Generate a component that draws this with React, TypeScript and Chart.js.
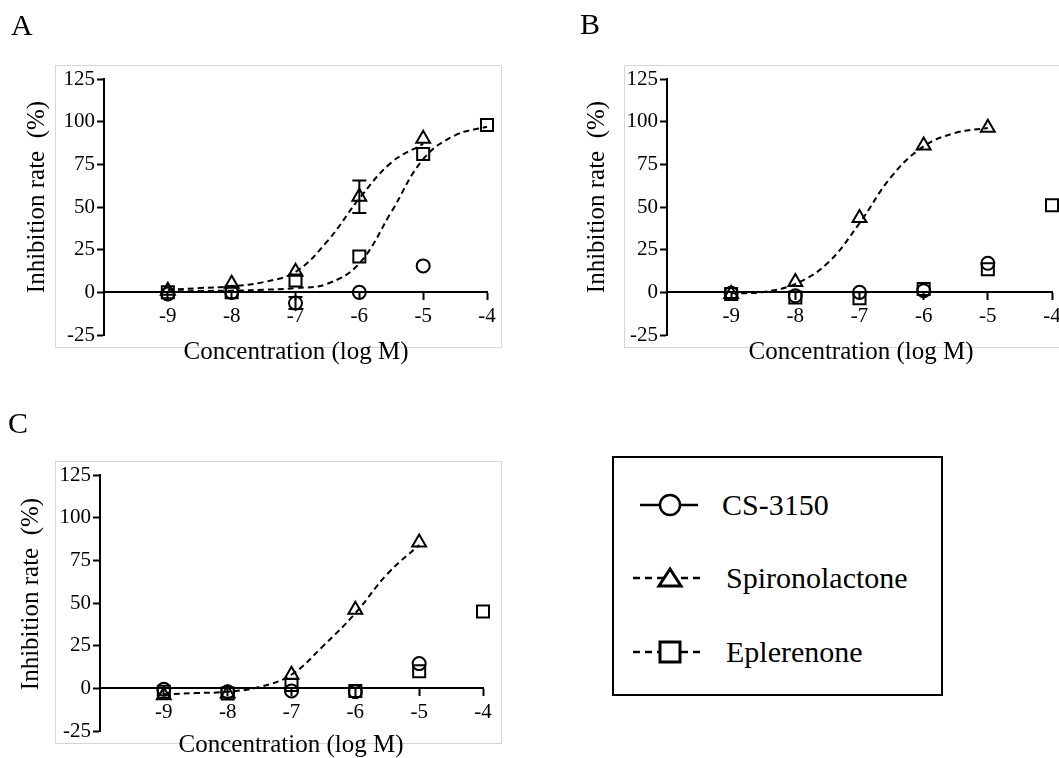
import React, { useEffect, useRef } from 'react';
import { Chart, registerables } from 'chart.js';

Chart.register(...registerables);

// ---------- data ----------
const xTicks = [-9, -8, -7, -6, -5, -4];
const yTicks = [-25, 0, 25, 50, 75, 100, 125];
const conc5 = [-9, -8, -7, -6, -5];
const conc6 = [-9, -8, -7, -6, -5, -4];

// Panel A
const aCs3150 = [-1, 0, -6.3, 0, 15.5];
const aCs3150Err = [0, 0, 3.5, 0, 0];
const aSpiro = [1, 5, 12, 56, 90];
const aSpiroErr = [0, 0, 0, 9.5, 0];
const aEpl = [0, 0, 7, 21, 81, 98];
const aSpiroFitX = [-9, -8.5, -8, -7.5, -7, -6.5, -6, -5.5, -5];
const aSpiroFitY = [1.5, 2.5, 3.5, 6, 12, 30, 55, 76, 87];
const aEplFitX = [-9, -8.5, -8, -7.5, -7, -6.5, -6, -5.5, -5, -4.5, -4];
const aEplFitY = [0.5, 0.8, 1, 1.5, 2.5, 5, 17, 47, 78, 92, 97];

// Panel B
const bCs3150 = [-0.5, -2, 0, 1, 17];
const bSpiro = [-1, 6, 43.5, 86, 96.5];
const bEpl = [-1, -3, -3.5, 2, 13.5, 51];
const bSpiroFitX = [-9, -8.5, -8, -7.5, -7, -6.5, -6, -5.5, -5];
const bSpiroFitY = [-0.6, 0.2, 5, 17, 40.5, 68, 85.5, 93.5, 96.3];

// Panel C
const cCs3150 = [-0.5, -2, -1.5, -2, 14.5];
const cSpiro = [-4, -3, 8, 46, 85.5];
const cEpl = [-2, -3, 2, -1.5, 10, 45];
const cSpiroFitX = [-9, -8.5, -8, -7.5, -7, -6.5, -6, -5.5, -5];
const cSpiroFitY = [-3.5, -2.8, -2, 0.8, 8, 25, 44, 67, 84];

const seriesNames = ['CS-3150', 'Spironolactone', 'Eplerenone'];

// ---------- helpers ----------
const SERIF = "'Liberation Serif', 'Times New Roman', serif";
const pts = (xs: number[], ys: number[]) => xs.map((x, i) => ({ x, y: ys[i] }));

const errorBarPlugin = {
  id: 'errorBars',
  afterDatasetsDraw(chart: any) {
    const ctx = chart.ctx;
    const ys = chart.scales.y;
    chart.data.datasets.forEach((ds: any, di: number) => {
      if (!ds.errorBars) return;
      const meta = chart.getDatasetMeta(di);
      ds.errorBars.forEach((e: number, i: number) => {
        if (!e) return;
        const el = meta.data[i];
        const v = ds.data[i].y;
        const top = ys.getPixelForValue(v + e);
        const bot = ys.getPixelForValue(v - e);
        ctx.save();
        ctx.strokeStyle = '#000';
        ctx.lineWidth = 2;
        ctx.beginPath();
        ctx.moveTo(el.x, top);
        ctx.lineTo(el.x, bot);
        ctx.moveTo(el.x - 7, top);
        ctx.lineTo(el.x + 7, top);
        ctx.moveTo(el.x - 7, bot);
        ctx.lineTo(el.x + 7, bot);
        ctx.stroke();
        ctx.restore();
      });
    });
  },
};

const textPlugin = {
  id: 'panelText',
  afterDraw(chart: any, _args: any, opts: any) {
    const ctx = chart.ctx;
    (opts.items || []).forEach((it: any) => {
      ctx.save();
      ctx.fillStyle = '#000';
      ctx.font = `${it.size}px ${SERIF}`;
      ctx.textAlign = it.align || 'center';
      ctx.textBaseline = it.baseline || 'middle';
      ctx.translate(it.x, it.y);
      if (it.rotate) ctx.rotate(it.rotate);
      ctx.fillText(it.text, 0, 0);
      ctx.restore();
    });
  },
};

type PanelDef = {
  cs: number[];
  csErr?: number[];
  spiro: number[];
  spiroErr?: number[];
  epl: number[];
  fits: { xs: number[]; ys: number[] }[];
  yWidth: number;
  padding: { left: number; top: number; right: number; bottom: number };
  texts: any[];
};

function makeConfig(p: PanelDef): any {
  const marker = (style: string, radius: number) => ({
    showLine: false,
    pointStyle: style,
    pointRadius: radius,
    pointHoverRadius: radius,
    pointBorderWidth: 2,
    borderColor: '#000',
    backgroundColor: 'rgba(0,0,0,0)',
    clip: false,
  });
  const fitSets = p.fits.map((f) => ({
    type: 'line',
    data: pts(f.xs, f.ys),
    borderColor: '#000',
    borderWidth: 2,
    borderDash: [6, 4],
    pointRadius: 0,
    tension: 0.4,
    fill: false,
    clip: false,
  }));
  const tickFont = { family: SERIF, size: 21 };
  const common = {
    grid: {
      display: true,
      drawOnChartArea: false,
      drawTicks: true,
      tickLength: 7,
      tickWidth: 2,
      tickColor: '#000',
    },
    border: { display: true, color: '#000', width: 2 },
  };
  return {
    type: 'scatter',
    data: {
      datasets: [
        { label: seriesNames[0], data: pts(conc5, p.cs), errorBars: p.csErr, ...marker('circle', 6.5) },
        { label: seriesNames[1], data: pts(conc5, p.spiro), errorBars: p.spiroErr, ...marker('triangle', 8) },
        { label: seriesNames[2], data: pts(conc6, p.epl), ...marker('rect', 8.5) },
        ...fitSets,
      ],
    },
    options: {
      animation: false,
      responsive: false,
      devicePixelRatio: 1,
      events: [],
      layout: { padding: p.padding },
      plugins: {
        legend: { display: false },
        tooltip: { enabled: false },
        panelText: { items: p.texts },
      },
      scales: {
        x: {
          type: 'linear',
          min: -10,
          max: -4,
          position: { y: 0 },
          afterBuildTicks: (s: any) => {
            s.ticks = xTicks.map((v) => ({ value: v }));
          },
          ...common,
          ticks: {
            color: '#000',
            font: tickFont,
            padding: 5,
            maxRotation: 0,
            autoSkip: false,
            callback: (v: any) => String(v),
          },
        },
        y: {
          type: 'linear',
          min: -25,
          max: 125,
          position: 'left',
          afterBuildTicks: (s: any) => {
            s.ticks = yTicks.map((v) => ({ value: v }));
          },
          afterFit: (s: any) => {
            s.width = p.yWidth;
          },
          ...common,
          ticks: {
            color: '#000',
            font: tickFont,
            padding: 2,
            autoSkip: false,
            callback: (v: any) => String(v),
          },
        },
      },
    },
    plugins: [errorBarPlugin, textPlugin],
  };
}

function Panel({ def, left, top, width, height }: { def: PanelDef; left: number; top: number; width: number; height: number }) {
  const ref = useRef<HTMLCanvasElement>(null);
  useEffect(() => {
    if (!ref.current) return;
    const chart = new Chart(ref.current, makeConfig(def));
    return () => chart.destroy();
  }, []);
  return (
    <canvas
      ref={ref}
      width={width}
      height={height}
      style={{ position: 'absolute', left, top, width, height }}
    />
  );
}

const yTitle = 'Inhibition rate  (%)';
const xTitle = 'Concentration (log M)';

const panelA: PanelDef = {
  cs: aCs3150,
  csErr: aCs3150Err,
  spiro: aSpiro,
  spiroErr: aSpiroErr,
  epl: aEpl,
  fits: [
    { xs: aSpiroFitX, ys: aSpiroFitY },
    { xs: aEplFitX, ys: aEplFitY },
  ],
  yWidth: 104,
  padding: { left: 0, top: 79, right: 43, bottom: 45 },
  texts: [
    { text: 'A', x: 11, y: 35, size: 30, align: 'left', baseline: 'alphabetic' },
    { text: yTitle, x: 37, y: 197, size: 25, rotate: -Math.PI / 2 },
    { text: xTitle, x: 296, y: 352, size: 25 },
  ],
};

const panelB: PanelDef = {
  cs: bCs3150,
  spiro: bSpiro,
  epl: bEpl,
  fits: [{ xs: bSpiroFitX, ys: bSpiroFitY }],
  yWidth: 137,
  padding: { left: 0, top: 79, right: 38, bottom: 45 },
  texts: [
    { text: 'B', x: 50, y: 34, size: 30, align: 'left', baseline: 'alphabetic' },
    { text: yTitle, x: 67, y: 197, size: 25, rotate: -Math.PI / 2 },
    { text: xTitle, x: 331, y: 352, size: 25 },
  ],
};

const panelC: PanelDef = {
  cs: cCs3150,
  spiro: cSpiro,
  epl: cEpl,
  fits: [{ xs: cSpiroFitX, ys: cSpiroFitY }],
  yWidth: 100,
  padding: { left: 0, top: 85, right: 47, bottom: 27 },
  texts: [
    { text: 'C', x: 8, y: 43, size: 30, align: 'left', baseline: 'alphabetic' },
    { text: yTitle, x: 31, y: 204, size: 25, rotate: -Math.PI / 2 },
    { text: xTitle, x: 291, y: 355, size: 25 },
  ],
};

function Legend() {
  const rows = [
    { y: 505, name: seriesNames[0], kind: 'circle' },
    { y: 578, name: seriesNames[1], kind: 'triangle' },
    { y: 652, name: seriesNames[2], kind: 'square' },
  ];
  return (
    <>
      <div
        style={{
          position: 'absolute',
          left: 612,
          top: 456,
          width: 331,
          height: 240,
          border: '2px solid #000',
          boxSizing: 'border-box',
        }}
      />
      {rows.map((r) => (
        <React.Fragment key={r.name}>
          <svg
            style={{ position: 'absolute', left: 625, top: r.y - 20, width: 90, height: 40 }}
            width={90}
            height={40}
          >
            {r.kind === 'circle' ? (
              <>
                <line x1={15} y1={20} x2={73} y2={20} stroke="#000" strokeWidth={2.5} />
                <circle cx={45} cy={20} r={10} fill="#fff" stroke="#000" strokeWidth={2.5} />
              </>
            ) : r.kind === 'triangle' ? (
              <>
                <line x1={8} y1={20} x2={80} y2={20} stroke="#000" strokeWidth={2.5} strokeDasharray="7 5" />
                <polygon points="34,28 56,28 45,11" fill="#fff" stroke="#000" strokeWidth={3} />
              </>
            ) : (
              <>
                <line x1={8} y1={20} x2={80} y2={20} stroke="#000" strokeWidth={2.5} strokeDasharray="7 5" />
                <rect x={35} y={10} width={20} height={20} fill="#fff" stroke="#000" strokeWidth={3} />
              </>
            )}
          </svg>
          <span
            style={{
              position: 'absolute',
              left: r.kind === 'circle' ? 722 : 726,
              top: r.y - 18,
              fontFamily: SERIF,
              fontSize: 30,
              lineHeight: '36px',
              color: '#000',
              whiteSpace: 'nowrap',
            }}
          >
            {r.name}
          </span>
        </React.Fragment>
      ))}
    </>
  );
}

export default function App() {
  const frame = { position: 'absolute' as const, border: '1px solid #d6d6d6', boxSizing: 'border-box' as const };
  return (
    <div
      style={{
        position: 'fixed',
        left: 0,
        top: 0,
        width: 1059,
        height: 758,
        overflow: 'hidden',
        background: '#fff',
      }}
    >
      <div style={{ ...frame, left: 55, top: 65, width: 447, height: 283 }} />
      <div style={{ ...frame, left: 624, top: 65, width: 500, height: 283 }} />
      <div style={{ ...frame, left: 55, top: 461, width: 447, height: 283 }} />
      <Panel def={panelA} left={0} top={0} width={530} height={380} />
      <Panel def={panelB} left={530} top={0} width={560} height={380} />
      <Panel def={panelC} left={0} top={390} width={530} height={368} />
      <Legend />
    </div>
  );
}
